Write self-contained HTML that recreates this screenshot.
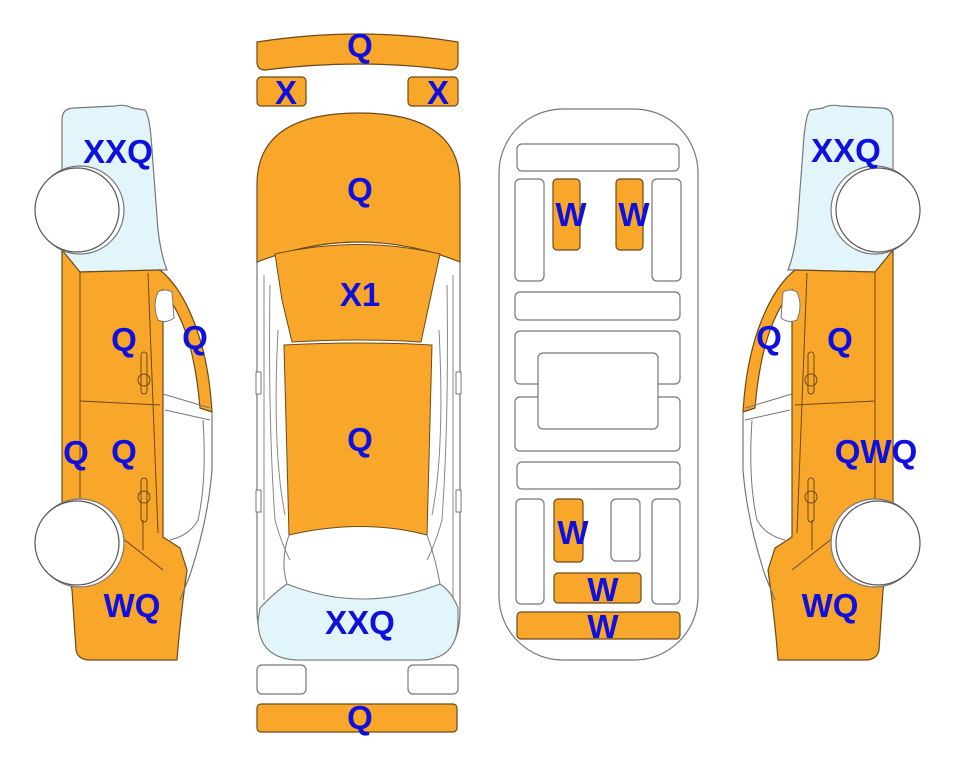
<!DOCTYPE html>
<html><head><meta charset="utf-8"><style>
html,body{margin:0;padding:0;background:#fff;}
svg{display:block;}
text{font-family:"Liberation Sans",sans-serif;font-weight:bold;font-size:33px;fill:#0f0fde;text-anchor:middle;}
</style></head><body>
<svg width="963" height="768" viewBox="0 0 963 768" xmlns="http://www.w3.org/2000/svg">
<defs>
<g id="side">
  <path d="M62,120 Q62,108 74,108 L115,106 Q125,104 132,108 L145,110 Q150,116 152,150 L158,230 Q161,255 167,270 L160,270 L80,272 L62,255 Z" fill="#e1f5fb" stroke="#777" stroke-width="1.2"/>
  <path d="M62,250 L80,272 L160,270 C185,290 208,340 212,412 L200,408 C195,350 183,315 163,290 L163,537 L180,548 L187,570 Q180,620 177,660 L90,660 Q78,660 76,650 L72,590 L62,540 Z" fill="#f9a72b" stroke="#6b4a1a" stroke-width="1.2"/>
  <path d="M158,292 Q165,288 172,292 L174,318 Q166,324 158,320 Q152,305 158,292 Z" fill="#fff" stroke="#777" stroke-width="1"/>
  <path d="M212,412 L212,470 Q208,520 190,575 L180,600" fill="none" stroke="#777" stroke-width="1.2"/>
  <path d="M163,394 L210,408 M165,410 L210,420 M203,420 Q207,480 198,520 Q190,535 170,540" fill="none" stroke="#777" stroke-width="1"/>
  <path d="M80,272 L80,505 L163,570 M80,401 L160,405 M148,273 L158,533 M143,520 L143,550" fill="none" stroke="#6b4a1a" stroke-width="1"/>
  <rect x="141" y="352" width="6" height="42" rx="3" fill="none" stroke="#6b4a1a" stroke-width="1"/>
  <circle cx="144" cy="380" r="6" fill="none" stroke="#6b4a1a" stroke-width="1"/>
  <rect x="141" y="478" width="6" height="44" rx="3" fill="none" stroke="#6b4a1a" stroke-width="1"/>
  <circle cx="144" cy="497" r="6" fill="none" stroke="#6b4a1a" stroke-width="1"/>
  <circle cx="80" cy="210" r="44" fill="#fff" stroke="#777" stroke-width="1.2"/>
  <circle cx="77" cy="210" r="42" fill="#fff" stroke="#555" stroke-width="1.2"/>
  <circle cx="80" cy="543" r="44" fill="#fff" stroke="#777" stroke-width="1.2"/>
  <circle cx="77" cy="543" r="42" fill="#fff" stroke="#555" stroke-width="1.2"/>
</g>
</defs>

<use href="#side"/>
<g transform="translate(955,0) scale(-1,1)"><use href="#side"/></g>

<path d="M257,42 Q360,26 458,42 L458,62 Q458,70 450,70 Q360,58 265,70 Q257,70 257,62 Z" fill="#f9a72b" stroke="#6b4a1a" stroke-width="1.2"/>
<rect x="257" y="77" width="49" height="29" rx="4" fill="#f9a72b" stroke="#6b4a1a" stroke-width="1.2"/>
<rect x="408" y="77" width="50" height="29" rx="4" fill="#f9a72b" stroke="#6b4a1a" stroke-width="1.2"/>

<path d="M257,262 L257,610 Q257,660 300,660 L420,660 Q460,660 460,610 L460,262" fill="#fff" stroke="#777" stroke-width="1.2"/>
<path d="M264,275 L264,600 M453,275 L453,600" fill="none" stroke="#888" stroke-width="1"/>
<path d="M270,285 Q268,420 275,520 Q282,545 290,560 M447,285 Q449,420 442,520 Q435,545 427,560" fill="none" stroke="#888" stroke-width="1"/>
<path d="M278,330 Q272,450 285,515 M439,330 Q445,450 432,515" fill="none" stroke="#888" stroke-width="1"/>
<rect x="256" y="372" width="5" height="22" fill="#fff" stroke="#777"/>
<rect x="456" y="372" width="5" height="22" fill="#fff" stroke="#777"/>
<rect x="256" y="490" width="5" height="22" fill="#fff" stroke="#777"/>
<rect x="456" y="490" width="5" height="22" fill="#fff" stroke="#777"/>
<path d="M257,262 L257,185 Q257,113 359,113 Q460,113 460,185 L460,262 Q360,222 257,262 Z" fill="#f9a72b" stroke="#6b4a1a" stroke-width="1.2"/>
<path d="M275,254 Q360,235 440,254 L430,300 L421,342 Q360,338 292,342 L282,300 Z" fill="#f9a72b" stroke="#6b4a1a" stroke-width="1"/>
<path d="M284,345 Q360,341 432,345 L427,535 Q362,518 289,535 Z" fill="#f9a72b" stroke="#6b4a1a" stroke-width="1"/>
<path d="M260,608 Q275,592 287,584 Q362,614 440,584 Q452,592 458,608 L458,620 Q458,660 420,660 L300,660 Q258,660 258,620 Z" fill="#e1f5fb" stroke="#777" stroke-width="1.1"/>
<path d="M289,535 Q280,560 287,584 M427,535 Q436,560 440,584" fill="none" stroke="#777" stroke-width="1"/>

<rect x="257" y="665" width="49" height="29" rx="5" fill="#fff" stroke="#777" stroke-width="1.2"/>
<rect x="408" y="665" width="50" height="29" rx="5" fill="#fff" stroke="#777" stroke-width="1.2"/>
<rect x="257" y="704" width="200" height="28" rx="4" fill="#f9a72b" stroke="#6b4a1a" stroke-width="1.2"/>

<g fill="#fff" stroke="#777" stroke-width="1.2">
<rect x="499" y="109" width="199" height="551" rx="64"/>
<rect x="517" y="144" width="162" height="27" rx="5"/>
<rect x="515" y="179" width="29" height="102" rx="5"/>
<rect x="652" y="179" width="29" height="102" rx="5"/>
<rect x="515" y="292" width="165" height="28" rx="5"/>
<rect x="515" y="331" width="165" height="53" rx="5"/>
<rect x="515" y="397" width="165" height="54" rx="5"/>
<rect x="538" y="353" width="120" height="76" rx="5"/>
<rect x="517" y="462" width="163" height="27" rx="5"/>
<rect x="516" y="499" width="28" height="105" rx="5"/>
<rect x="611" y="499" width="29" height="62" rx="5"/>
<rect x="652" y="499" width="28" height="105" rx="5"/>
</g>
<g fill="#f9a72b" stroke="#6b4a1a" stroke-width="1.2">
<rect x="553" y="179" width="27" height="71" rx="4"/>
<rect x="616" y="179" width="27" height="71" rx="4"/>
<rect x="554" y="499" width="29" height="63" rx="4"/>
<rect x="554" y="573" width="87" height="30" rx="4"/>
<rect x="517" y="612" width="163" height="27" rx="4"/>
</g>

<text x="118" y="163">XXQ</text>
<text x="124" y="351">Q</text>
<text x="195" y="349">Q</text>
<text x="76" y="464">Q</text>
<text x="124" y="463">Q</text>
<text x="132" y="617">WQ</text>

<text x="360" y="57">Q</text>
<text x="286" y="104">X</text>
<text x="438" y="104">X</text>
<text x="360" y="201">Q</text>
<text x="360" y="306">X1</text>
<text x="360" y="451">Q</text>
<text x="360" y="634">XXQ</text>
<text x="360" y="729">Q</text>

<text x="571" y="226">W</text>
<text x="634" y="226">W</text>
<text x="573" y="544">W</text>
<text x="603" y="601">W</text>
<text x="603" y="638">W</text>

<text x="846" y="162">XXQ</text>
<text x="769" y="349">Q</text>
<text x="840" y="351">Q</text>
<text x="876" y="463">QWQ</text>
<text x="830" y="617">WQ</text>
</svg>
</body></html>
